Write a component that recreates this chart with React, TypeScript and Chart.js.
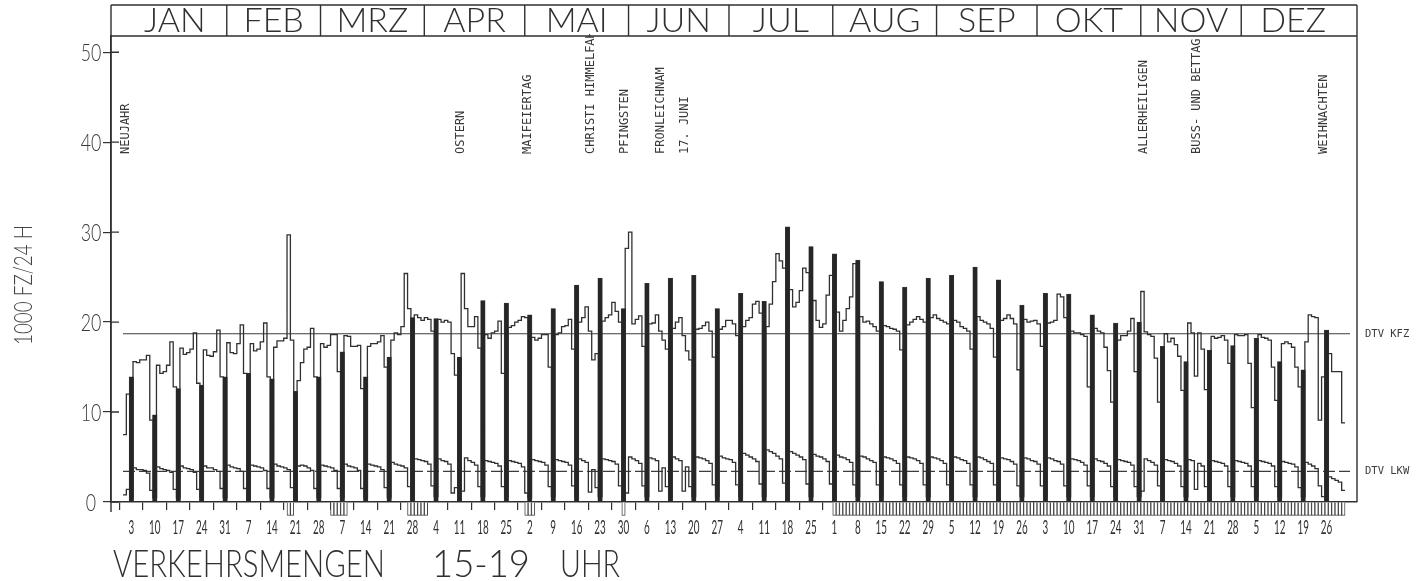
import React, { useEffect, useRef } from "react";
import { Chart, registerables } from "chart.js";
Chart.register(...registerables);

const YEAR = 1982;
const monthNames = ["JAN", "FEB", "MRZ", "APR", "MAI", "JUN", "JUL", "AUG", "SEP", "OKT", "NOV", "DEZ"];
const monthDays = [31, 28, 31, 30, 31, 30, 31, 31, 30, 31, 30, 31];

// KFZ (all vehicles) 15-19 h, per day, in 1000 vehicles
const kfzJan = [7.5, 12.0, 13.9, 15.6, 15.5, 15.8, 15.8, 16.3, 9.1, 9.7, 15.2, 14.3, 14.5, 15.2, 17.8, 12.8, 12.6, 17.1, 16.4, 16.6, 17.0, 18.8, 13.2, 13.0, 16.9, 16.3, 16.2, 16.7, 19.1, 13.9, 13.9];
const kfzFeb = [17.7, 16.6, 16.5, 17.6, 19.7, 14.3, 14.3, 17.6, 16.8, 17.0, 17.8, 19.9, 13.9, 13.7, 17.2, 17.9, 17.9, 18.2, 29.7, 18.0, 12.3, 13.5, 15.5, 17.0, 17.2, 19.3, 13.9, 13.9];
const kfzMar = [17.6, 17.2, 17.4, 18.6, 18.6, 14.5, 16.7, 18.5, 18.4, 17.3, 17.3, 17.4, 12.6, 13.9, 17.3, 17.6, 17.6, 17.8, 18.5, 15.0, 16.1, 18.0, 18.8, 18.6, 19.5, 25.4, 21.5, 20.5, 20.8, 20.5, 20.2];
const kfzApr = [20.5, 20.3, 19.0, 20.4, 20.3, 20.0, 20.2, 20.0, 16.5, 14.1, 16.1, 25.4, 21.5, 19.5, 19.5, 20.6, 17.1, 22.4, 18.6, 18.2, 18.8, 19.0, 20.1, 14.3, 22.1, 19.4, 19.6, 20.0, 20.2, 20.6];
const kfzMay = [20.5, 20.8, 18.3, 18.0, 18.2, 18.6, 18.6, 15.0, 21.5, 18.6, 18.8, 19.5, 19.6, 20.3, 17.0, 24.1, 20.0, 20.5, 21.7, 19.0, 15.8, 16.5, 24.9, 20.1, 20.5, 20.8, 22.2, 21.2, 20.0, 21.5, 28.2];
const kfzJun = [30.0, 19.8, 20.3, 20.7, 17.3, 24.3, 19.8, 19.9, 20.8, 19.0, 18.0, 17.0, 24.9, 19.3, 20.0, 20.5, 18.5, 16.8, 15.8, 25.2, 19.2, 19.3, 19.6, 20.0, 19.0, 16.1, 21.5, 19.2, 19.5, 20.2];
const kfzJul = [20.2, 19.8, 18.5, 23.2, 19.5, 20.2, 20.5, 22.0, 22.3, 21.0, 22.3, 19.5, 22.0, 24.5, 27.6, 26.8, 26.0, 30.6, 23.6, 21.7, 22.2, 23.5, 26.0, 25.5, 28.4, 22.4, 20.2, 19.4, 19.8, 23.0, 25.2];
const kfzAug = [27.6, 21.1, 19.0, 20.2, 21.5, 22.8, 26.5, 26.9, 20.6, 20.0, 20.1, 19.8, 19.5, 19.0, 24.5, 19.6, 19.5, 19.3, 19.2, 19.0, 16.9, 23.9, 19.7, 20.0, 20.3, 20.6, 20.3, 20.0, 24.9, 20.5, 20.8];
const kfzSep = [20.4, 20.2, 20.0, 19.8, 25.2, 20.2, 20.0, 19.5, 19.3, 19.0, 17.0, 26.1, 20.6, 20.2, 20.0, 19.8, 19.3, 16.1, 24.7, 20.2, 20.4, 20.8, 20.4, 19.8, 14.7, 21.9, 20.3, 20.0, 20.1, 20.2];
const kfzOct = [19.8, 17.3, 23.2, 19.9, 20.0, 20.2, 23.1, 22.8, 20.5, 23.1, 19.0, 18.8, 18.8, 18.6, 18.4, 12.8, 20.8, 19.3, 19.0, 18.8, 17.2, 14.6, 11.1, 19.9, 18.0, 18.5, 18.5, 19.0, 20.4, 14.5, 20.0];
const kfzNov = [23.4, 18.9, 18.6, 18.4, 16.0, 11.1, 17.3, 18.7, 17.8, 18.2, 17.5, 16.2, 12.4, 15.6, 19.9, 18.8, 14.0, 18.8, 17.0, 12.5, 16.9, 18.4, 18.2, 18.3, 18.5, 18.0, 15.4, 17.4, 18.6, 18.5];
const kfzDec = [18.5, 18.6, 15.4, 10.5, 18.2, 18.6, 18.3, 18.2, 18.0, 15.0, 11.3, 15.6, 17.6, 17.8, 17.6, 17.2, 15.0, 12.8, 14.7, 17.8, 20.8, 20.6, 20.5, 9.1, 13.9, 19.1, 16.5, 14.5, 14.5, 14.5, 8.8];

// LKW (trucks) 15-19 h, per day
const lkwJan = [0.8, 1.4, 0.5, 3.8, 3.6, 3.6, 3.5, 3.2, 1.3, 0.5, 3.9, 3.7, 3.6, 3.5, 3.3, 1.4, 0.5, 4.0, 3.8, 3.7, 3.6, 3.3, 1.4, 0.5, 4.0, 3.8, 3.8, 3.6, 3.4, 1.5, 0.5];
const lkwFeb = [4.1, 3.9, 3.8, 3.7, 3.4, 1.5, 0.5, 4.1, 4.0, 3.9, 3.8, 3.5, 1.5, 0.5, 4.2, 4.0, 3.9, 3.8, 3.6, 1.6, 0.5, 4.0, 4.1, 4.0, 3.8, 3.5, 1.5, 0.5];
const lkwMar = [4.1, 4.0, 3.9, 3.8, 3.5, 1.5, 0.5, 4.2, 4.0, 3.9, 3.8, 3.5, 1.5, 0.5, 4.2, 4.1, 4.0, 3.9, 3.6, 1.6, 0.5, 4.4, 4.2, 4.1, 4.0, 3.8, 1.7, 0.6, 4.8, 4.7, 4.6];
const lkwApr = [4.5, 4.2, 1.8, 0.6, 4.8, 4.6, 4.5, 4.2, 1.0, 1.6, 0.5, 1.2, 4.9, 4.6, 4.4, 4.1, 1.7, 0.6, 4.6, 4.5, 4.4, 4.3, 4.0, 1.7, 0.6, 4.6, 4.5, 4.4, 4.3, 3.9];
const lkwMay = [1.0, 0.5, 4.7, 4.6, 4.5, 4.4, 4.1, 1.7, 0.6, 4.7, 4.6, 4.5, 4.4, 4.1, 1.8, 0.6, 4.8, 4.6, 4.4, 1.1, 3.6, 1.6, 0.6, 4.8, 4.7, 4.6, 4.5, 4.2, 1.8, 0.6, 1.0];
const lkwJun = [5.0, 4.8, 4.6, 4.3, 1.8, 0.6, 4.9, 4.8, 4.6, 1.2, 3.8, 1.7, 0.6, 5.0, 4.8, 4.6, 1.2, 3.9, 1.7, 0.6, 5.0, 4.9, 4.8, 4.6, 4.3, 1.9, 0.6, 5.1, 4.9, 4.8];
const lkwJul = [4.7, 4.4, 1.9, 0.6, 5.4, 5.2, 5.0, 4.8, 4.5, 2.0, 0.6, 5.8, 5.6, 5.4, 5.1, 4.8, 2.1, 0.7, 5.6, 5.4, 5.2, 5.0, 4.7, 2.0, 0.6, 5.3, 5.1, 5.0, 4.8, 4.5, 2.0];
const lkwAug = [0.6, 5.2, 5.0, 4.9, 4.7, 4.4, 1.9, 0.6, 5.1, 5.0, 4.8, 4.6, 4.4, 1.9, 0.6, 5.0, 4.9, 4.8, 4.6, 4.3, 1.9, 0.6, 5.0, 4.9, 4.8, 4.6, 4.3, 1.9, 0.6, 5.0, 4.9];
const lkwSep = [4.8, 4.6, 4.3, 1.9, 0.6, 5.0, 4.9, 4.7, 4.6, 4.3, 1.9, 0.6, 5.0, 4.9, 4.7, 4.5, 4.3, 1.9, 0.6, 4.9, 4.8, 4.7, 4.5, 4.2, 1.8, 0.6, 4.9, 4.8, 4.6, 4.5];
const lkwOct = [4.2, 1.8, 0.6, 4.9, 4.8, 4.6, 4.5, 4.2, 1.8, 0.6, 4.8, 4.7, 4.6, 4.4, 4.1, 1.8, 0.6, 4.8, 4.6, 4.5, 4.3, 4.0, 1.7, 0.6, 4.7, 4.6, 4.5, 4.4, 4.1, 1.7, 0.6];
const lkwNov = [1.2, 4.8, 4.6, 4.4, 4.1, 1.8, 0.6, 4.7, 4.6, 4.5, 4.3, 4.0, 1.7, 0.6, 4.7, 4.6, 1.4, 4.3, 4.0, 1.7, 0.6, 4.6, 4.5, 4.4, 4.3, 4.0, 1.7, 0.6, 4.6, 4.5];
const lkwDec = [4.4, 4.3, 4.0, 1.7, 0.6, 4.6, 4.5, 4.4, 4.3, 4.0, 1.7, 0.6, 4.5, 4.4, 4.3, 4.2, 3.9, 1.6, 0.6, 4.4, 4.2, 4.0, 3.7, 1.8, 0.6, 0.4, 2.8, 2.6, 2.4, 2.2, 1.3];

const dtvKfz = 18.7;
const dtvLkw = 3.4;

const yTickValues = [0, 10, 20, 30, 40, 50];
const weekTickLabels = [3, 10, 17, 24, 31, 7, 14, 21, 28, 7, 14, 21, 28, 4, 11, 18, 25, 2, 9, 16, 23, 30, 6, 13, 20, 27, 4, 11, 18, 25, 1, 8, 15, 22, 29, 5, 12, 19, 26, 3, 10, 17, 24, 31, 7, 14, 21, 28, 5, 12, 19, 26];

const holidayNames = ["NEUJAHR", "OSTERN", "MAIFEIERTAG", "CHRISTI HIMMELFAHRT", "PFINGSTEN", "FRONLEICHNAM", "17. JUNI", "ALLERHEILIGEN", "BUSS- UND BETTAG", "WEIHNACHTEN"];
const holidayDates = [[1, 1], [4, 11], [5, 1], [5, 20], [5, 30], [6, 10], [6, 17], [11, 1], [11, 17], [12, 25]];

// marked day periods (drawn as hatch below the axis)
const markedFrom = [[2, 19], [3, 4], [3, 27], [5, 1], [5, 30], [8, 1]];
const markedTo = [[2, 20], [3, 8], [4, 1], [5, 3], [5, 30], [12, 31]];

const doyOf = (m: number, d: number) => monthDays.slice(0, m - 1).reduce((a, b) => a + b, 0) + d;

export default function App() {
  const ref = useRef<HTMLCanvasElement | null>(null);
  useEffect(() => {
    document.body.style.margin = "0";
    document.body.style.overflow = "hidden";
    const kfz = [...kfzJan, ...kfzFeb, ...kfzMar, ...kfzApr, ...kfzMay, ...kfzJun, ...kfzJul, ...kfzAug, ...kfzSep, ...kfzOct, ...kfzNov, ...kfzDec];
    const lkw = [...lkwJan, ...lkwFeb, ...lkwMar, ...lkwApr, ...lkwMay, ...lkwJun, ...lkwJul, ...lkwAug, ...lkwSep, ...lkwOct, ...lkwNov, ...lkwDec];
    const nDays = kfz.length;
    const isSunday = (d: number) => new Date(YEAR, 0, d).getDay() === 0;
    const sundays: number[] = [];
    for (let d = 1; d <= nDays; d++) if (isSunday(d)) sundays.push(d);

    const kfzLine: { x: number; y: number }[] = [];
    const lkwLine: { x: number; y: number }[] = [];
    for (let d = 1; d <= nDays; d++) {
      kfzLine.push({ x: d - 0.5, y: isSunday(d) ? lkw[d - 1] : kfz[d - 1] });
      lkwLine.push({ x: d - 0.5, y: lkw[d - 1] });
    }
    kfzLine.push({ x: nDays + 0.5, y: kfzLine[nDays - 1].y });
    lkwLine.push({ x: nDays + 0.5, y: lkwLine[nDays - 1].y });
    const sundayBars = sundays.map((d) => ({ x: d, y: kfz[d - 1] }));
    const hatch: { x: number; y: number }[] = [];
    markedFrom.forEach((f, i) => {
      const a = doyOf(f[0], f[1]);
      const b = doyOf(markedTo[i][0], markedTo[i][1]);
      for (let d = a; d <= b; d++) hatch.push({ x: d, y: -1.5 });
    });

    const ink = "#303030";
    const light = "300";

    const fitText = (ctx: CanvasRenderingContext2D, text: string, x: number, y: number, sx: number, align: "left" | "center" | "right") => {
      const w = ctx.measureText(text).width * sx;
      const x0 = align === "left" ? x : align === "center" ? x - w / 2 : x - w;
      ctx.save();
      ctx.translate(x0, y);
      ctx.scale(sx, 1);
      ctx.textAlign = "left";
      ctx.fillText(text, 0, 0);
      ctx.restore();
    };
    const fitWidth = (ctx: CanvasRenderingContext2D, text: string, x: number, y: number, width: number) => {
      const w = ctx.measureText(text).width;
      fitText(ctx, text, x, y, width / w, "left");
    };

    const decor = {
      id: "decor",
      afterDraw(chart: any) {
        const ctx: CanvasRenderingContext2D = chart.ctx;
        const xs = chart.scales.x;
        const ys = chart.scales.y;
        const { left, right, top, bottom } = chart.chartArea;
        const headTop = 5;
        ctx.save();
        ctx.strokeStyle = ink;
        ctx.fillStyle = ink;
        ctx.lineWidth = 1.4;
        ctx.beginPath();
        ctx.moveTo(left, headTop); ctx.lineTo(right, headTop);
        ctx.moveTo(left, top); ctx.lineTo(right, top);
        ctx.moveTo(left, headTop); ctx.lineTo(left, bottom + 10);
        ctx.moveTo(right, headTop); ctx.lineTo(right, bottom);
        let start = 0;
        monthDays.forEach((n, i) => {
          if (i > 0) {
            const px = xs.getPixelForValue(start + 0.5);
            ctx.moveTo(px, headTop); ctx.lineTo(px, top);
          }
          start += n;
        });
        yTickValues.forEach((v) => {
          const py = ys.getPixelForValue(v);
          ctx.moveTo(left, py); ctx.lineTo(left + 8, py);
        });
        ctx.stroke();

        // y tick labels
        ctx.fillStyle = "#3a3a3a";
        ctx.font = `${light} 24px Lato, 'DejaVu Sans', sans-serif`;
        ctx.textBaseline = "middle";
        yTickValues.forEach((v) => {
          fitText(ctx, String(v), 91, ys.getPixelForValue(v) + 1, 0.74, "center");
        });

        // x tick labels (Sundays)
        ctx.fillStyle = ink;
        ctx.font = "400 19px Lato, 'DejaVu Sans', sans-serif";
        ctx.textBaseline = "alphabetic";
        sundays.forEach((d, i) => {
          fitText(ctx, String(weekTickLabels[i]), xs.getPixelForValue(d), 534, 0.52, "center");
        });

        // month labels
        ctx.font = `${light} 34px Lato, 'DejaVu Sans', sans-serif`;
        ctx.textAlign = "center";
        ctx.textBaseline = "alphabetic";
        start = 0;
        monthDays.forEach((n, i) => {
          const a = xs.getPixelForValue(start + 0.5);
          const b = xs.getPixelForValue(start + n + 0.5);
          ctx.fillText(monthNames[i], (a + b) / 2, 32);
          start += n;
        });

        // holiday labels (vertical)
        ctx.save();
        ctx.beginPath();
        ctx.rect(left, top - 2, right - left, bottom - top);
        ctx.clip();
        ctx.fillStyle = "#383838";
        ctx.font = "12px 'DejaVu Sans Mono', monospace";
        ctx.textAlign = "left";
        ctx.textBaseline = "middle";
        holidayNames.forEach((name, i) => {
          const d = doyOf(holidayDates[i][0], holidayDates[i][1]);
          const px = xs.getPixelForValue(d) + 1;
          ctx.save();
          ctx.translate(px, 154);
          ctx.rotate(-Math.PI / 2);
          ctx.fillText(name, 0, 0);
          ctx.restore();
        });
        ctx.restore();

        // DTV labels
        ctx.fillStyle = "#3a3a3a";
        ctx.font = "10.5px 'DejaVu Sans Mono', monospace";
        ctx.textAlign = "left";
        ctx.textBaseline = "middle";
        ctx.fillText("DTV KFZ", right + 8, ys.getPixelForValue(dtvKfz));
        ctx.fillText("DTV LKW", right + 8, ys.getPixelForValue(dtvLkw));

        // y axis title
        ctx.fillStyle = "#444";
        ctx.font = `${light} 26px Lato, 'DejaVu Sans', sans-serif`;
        ctx.textBaseline = "alphabetic";
        ctx.save();
        ctx.translate(32, 345);
        ctx.rotate(-Math.PI / 2);
        fitWidth(ctx, "1000 FZ/24 H", 0, 0, 120);
        ctx.restore();

        // bottom title
        ctx.fillStyle = ink;
        ctx.font = `${light} 38px Lato, 'DejaVu Sans', sans-serif`;
        fitWidth(ctx, "VERKEHRSMENGEN", 113, 577, 272);
        fitWidth(ctx, "15-19", 432, 577, 98);
        fitWidth(ctx, "UHR", 560, 577, 60);
        ctx.restore();
      },
    };

    const chart = new Chart(ref.current as HTMLCanvasElement, {
      type: "line",
      data: {
        datasets: [
          {
            type: "bar",
            label: "Sonntag",
            data: sundayBars,
            backgroundColor: "#262626",
            borderColor: "#3a3a3a",
            borderWidth: 0.5,
            barThickness: 4.5,
            grouped: false,
          } as any,
          {
            type: "bar",
            label: "markiert",
            data: hatch,
            backgroundColor: "#ffffff",
            borderColor: "#444444",
            borderWidth: 1,
            barThickness: 3.41,
            grouped: false,
            clip: false,
          } as any,
          {
            label: "KFZ",
            data: kfzLine,
            stepped: true,
            borderColor: ink,
            borderWidth: 1.3,
            pointRadius: 0,
            fill: false,
          },
          {
            label: "LKW",
            data: lkwLine,
            stepped: true,
            borderColor: ink,
            borderWidth: 1.3,
            pointRadius: 0,
            fill: false,
          },
          {
            label: "DTV KFZ",
            data: [{ x: 0.5, y: dtvKfz }, { x: nDays + 2, y: dtvKfz }],
            borderColor: "#3c3c3c",
            borderWidth: 1.2,
            pointRadius: 0,
            clip: false,
          } as any,
          {
            label: "DTV LKW",
            data: [{ x: 0.5, y: dtvLkw }, { x: nDays + 2, y: dtvLkw }],
            borderColor: "#3c3c3c",
            borderWidth: 1.2,
            borderDash: [12, 4],
            pointRadius: 0,
            clip: false,
          } as any,
        ],
      },
      options: {
        responsive: false,
        animation: false,
        devicePixelRatio: 1,
        layout: { padding: { top: 36, right: 71, left: 0, bottom: 0 } },
        plugins: { legend: { display: false }, tooltip: { enabled: false }, title: { display: false } },
        scales: {
          x: {
            type: "linear",
            min: 0.5,
            max: nDays + 0.5,
            afterBuildTicks: (scale: any) => {
              scale.ticks = sundays.map((d) => ({ value: d }));
            },
            afterFit: (scale: any) => {
              scale.height = 79;
            },
            ticks: { display: false, autoSkip: false, maxRotation: 0 },
            grid: { drawOnChartArea: false, drawTicks: true, tickLength: 8, color: ink, lineWidth: 1.2 },
            border: { color: ink, width: 1.5 },
          },
          y: {
            min: 0,
            max: 51.8,
            afterBuildTicks: (scale: any) => {
              scale.ticks = yTickValues.map((v) => ({ value: v }));
            },
            afterFit: (scale: any) => {
              scale.width = 111;
            },
            ticks: { display: false },
            grid: { drawOnChartArea: false, drawTicks: true, tickLength: 8, color: ink, lineWidth: 1.2 },
            border: { color: ink, width: 1.5 },
          },
        },
      } as any,
      plugins: [decor],
    });
    return () => chart.destroy();
  }, []);
  return (
    <div style={{ width: 1428, height: 581, background: "#fff" }}>
      <canvas ref={ref} width={1428} height={581} style={{ display: "block" }} />
    </div>
  );
}
